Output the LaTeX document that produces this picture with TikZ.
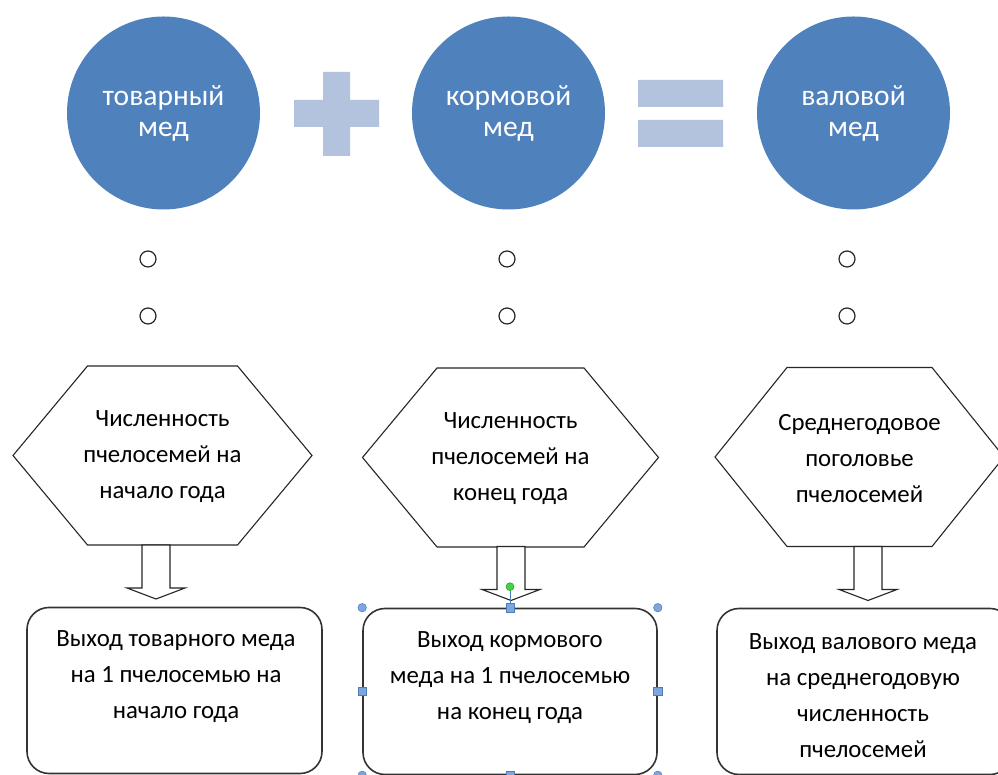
\documentclass[tikz,border=0pt]{standalone}
\usepackage{fontspec}
\setmainfont{Carlito}
\usepackage{tikz}
\usetikzlibrary{calc,positioning}
\definecolor{discblue}{HTML}{4F81BD}
\definecolor{sign}{HTML}{B3C2DD}
\definecolor{handle}{HTML}{7EA6DC}
\definecolor{handleline}{HTML}{4A7EBB}
\definecolor{rotgreen}{HTML}{3DD83D}
\tikzset{disc/.style={circle,fill=discblue,minimum size=193pt,inner sep=0pt,text=white,align=center,font=\fontsize{29.5}{33}\selectfont},hexline/.style={draw=black!85,line width=1.1pt},hextext/.style={align=center,font=\fontsize{24.8}{36}\selectfont},outbox/.style={draw=black!80,line width=1.6pt,rounded corners=22pt,minimum width=295pt,minimum height=166pt,inner sep=0pt},ring/.style={circle,draw=black!85,line width=1.2pt,minimum size=16pt,inner sep=0pt},grip/.style={fill=handle,draw=handleline,line width=.5pt,minimum size=8.5pt,inner sep=0pt},blockarrow/.pic={\draw[draw=black!85,fill=white,line width=1.1pt] (-14,0) -- (-14,-43) -- (-29,-43) -- (0,-54) -- (29,-43) -- (14,-43) -- (14,0) -- cycle;}}
\begin{document}
\begin{tikzpicture}[x=1pt,y=1pt]
 \useasboundingbox (0,0) rectangle (998,775); \clip (0,0) rectangle (998,775);
 \node[disc] (tov) at (163.5,662) {товарный\\[-2pt]мед};
 \node[disc] (korm) at (508.5,662) {кормовой\\[-2pt]мед};
 \node[disc] (val) at (853.5,662) {валовой\\[-2pt]мед};
 \fill[sign] (294,648) rectangle (379,675) (323,619) rectangle (350,703);
 \fill[sign] (638,668) rectangle (723,695) (638,628) rectangle (723,655);
 \foreach \x/\n in {148/1,507/2,847/3} {\node[ring] (ra\n) at (\x,516) {}; \node[ring] (rb\n) at (\x,459) {};}
 % hexagons
 \node[hextext] (h1) at (162.5,318) {Численность\\пчелосемей на\\начало года};
 \node[hextext] (h2) at (510.5,316.5) {Численность\\пчелосемей на\\конец года};
 \node[hextext] (h3) at (859.5,316.5) {Среднегодовое\\поголовье\\пчелосемей};
 \foreach \n/\w/\f/\c in {h1/149.5/75/1.5,h2/148/73.5/1,h3/144.5/72.5/1.5}
  \draw[hexline] ($(\n)+(-\w,\c)$) -- ($(\n)+(-\f,89.5+\c)$) -- ($(\n)+(\f,89.5+\c)$) -- ($(\n)+(\w,\c)$) -- ($(\n)+(\f,-89.5+\c)$) -- ($(\n)+(-\f,-89.5+\c)$) -- cycle;
 \foreach \n/\d in {h1/-6.5,h2/0.5,h3/8.5} \path (\n) ++(\d,-88) pic {blockarrow};
 % result boxes
 \node[outbox] (b1) at (174.5,84.5) {};
 \node[outbox,minimum width=294pt] (b2) at (510,83.5) {};
 \node[outbox] (b3) at (864.5,83.5) {};
 \node[hextext] (t1) at (176,98) {Выход товарного меда\\на 1 пчелосемью на\\начало года};
 \node[hextext] (t2) at (510,97.5) {Выход кормового\\меда на 1 пчелосемью\\на конец года};
 \node[hextext] (t3) at (863,79) {Выход валового меда\\на среднегодовую\\численность\\пчелосемей};
 % selection handles
 \node[circle,fill=rotgreen,draw=rotgreen!60!black,line width=.4pt,minimum size=8pt,inner sep=0pt] (rot) at ($(b2.north)+(0,21)$) {};
 \draw[handleline,line width=.6pt] (rot) -- (b2.north);
 \foreach \a/\n in {north west/nw,north east/ne,south west/sw,south east/se} \node[grip,circle] (g\n) at (b2.\a) {};
 \foreach \a/\n in {north/n,south/s,west/w,east/e} \node[grip,rectangle] (s\n) at (b2.\a) {};
\end{tikzpicture}
\end{document}
